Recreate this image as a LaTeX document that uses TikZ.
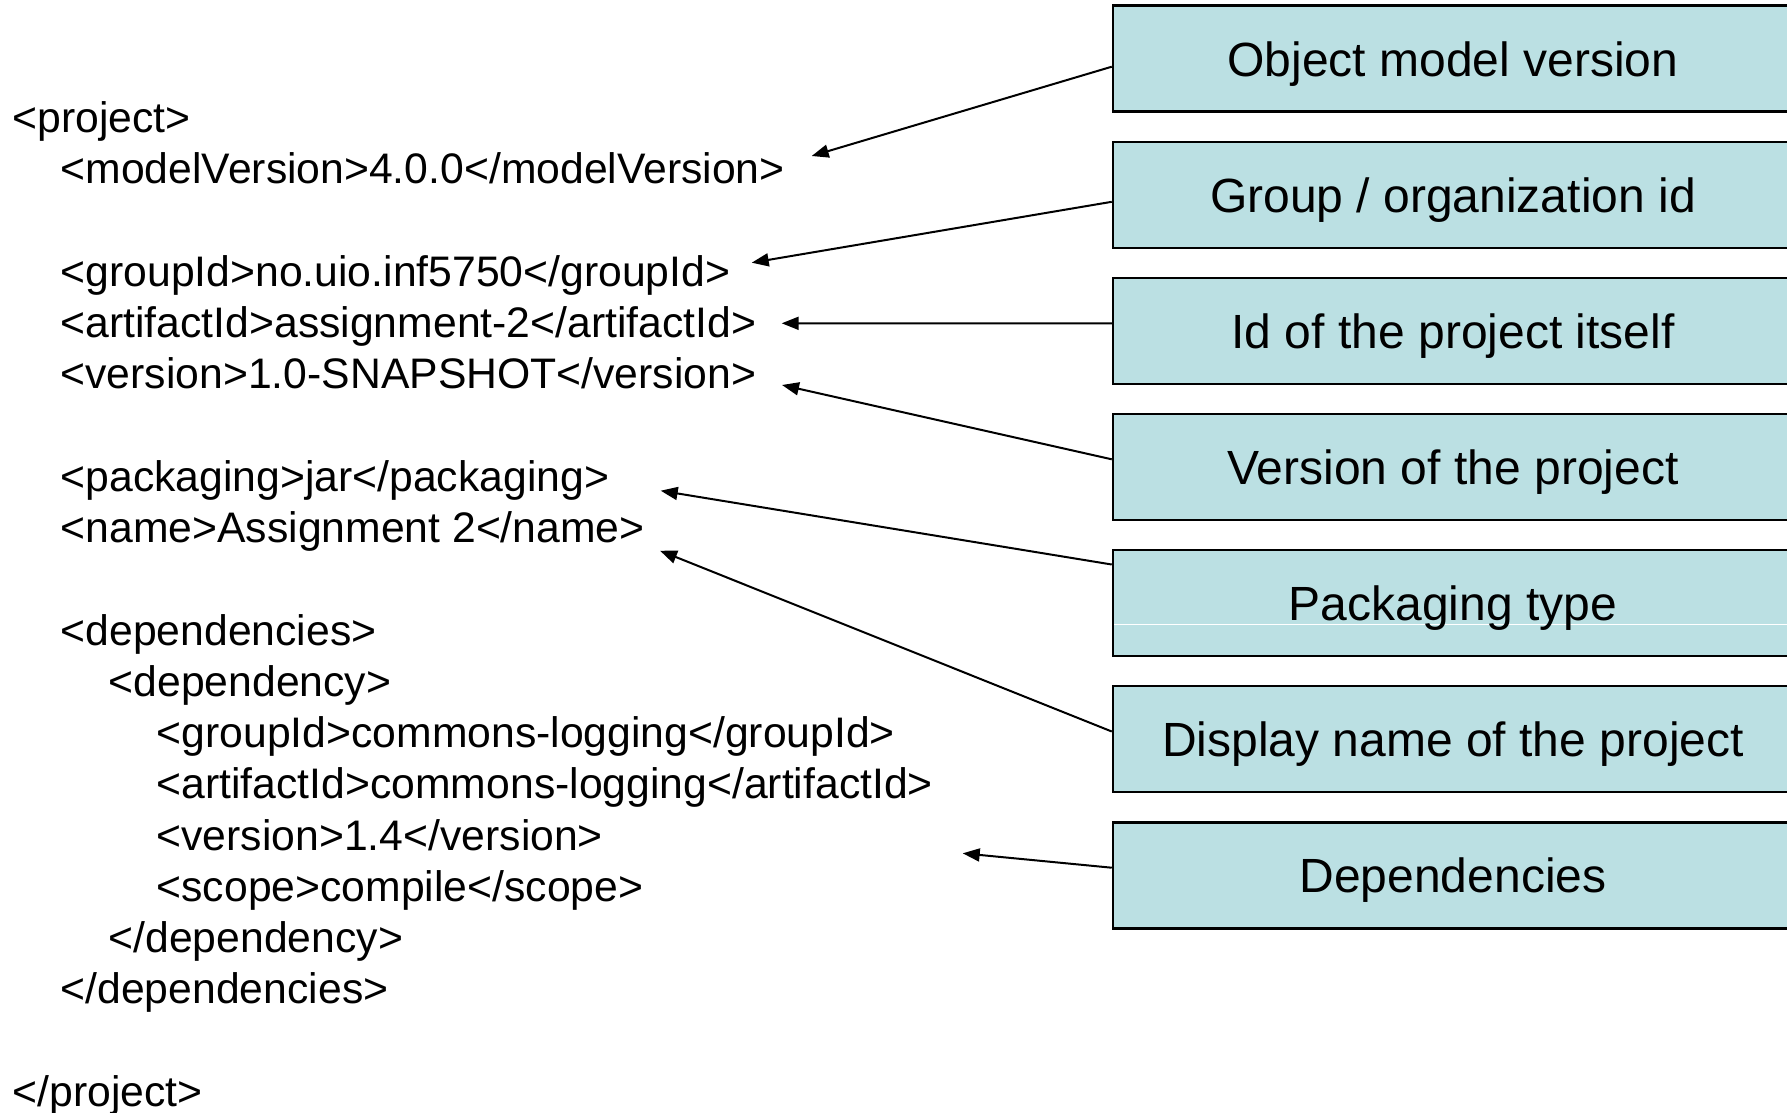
\documentclass[tikz,border=0pt]{standalone}
\usepackage{fontspec}
\setmainfont{Liberation Sans}
\usetikzlibrary{arrows.meta}
\definecolor{boxcol}{RGB}{187,224,227}
\tikzset{
  infobox/.style={draw=black, line width=2.5pt, fill=boxcol, minimum width=680pt, minimum height=106pt,
    inner sep=0pt, text height=45.6pt, text depth=10.6pt, font=\fontsize{48}{56}\selectfont},
  codeline/.style={anchor=base west, inner sep=0pt, font=\fontsize{42.7}{50}\selectfont},
  pointer/.style={line width=2pt, -{Triangle[length=17pt,width=13pt]}}
}
\begin{document}
\begin{tikzpicture}[x=1pt,y=-1pt]
\useasboundingbox (0,0) rectangle (1787,1112);
% code lines
\def\xa{12.5}\def\xb{60.5}\def\xc{108.5}\def\xd{156.5}
\node[codeline] (l0)  at (\xa,132.5) {<project>};
\node[codeline] (l1)  at (\xb,183.8) {<modelVersion>4.0.0</modelVersion>};
\node[codeline] (l3)  at (\xb,286.3) {<groupId>no.uio.inf5750</groupId>};
\node[codeline] (l4)  at (\xb,337.5) {<artifactId>assignment-2</artifactId>};
\node[codeline] (l5)  at (\xb,388.8) {<version>1.0-SNAPSHOT</version>};
\node[codeline] (l7)  at (\xb,491.3) {<packaging>jar</packaging>};
\node[codeline] (l8)  at (\xb,542.6) {<name>Assignment 2</name>};
\node[codeline] (l10) at (\xb,645.1) {<dependencies>};
\node[codeline] (l11) at (\xc,696.4) {<dependency>};
\node[codeline] (l12) at (\xd,747.6) {<groupId>commons-logging</groupId>};
\node[codeline] (l13) at (\xd,798.9) {<artifactId>commons-logging</artifactId>};
\node[codeline] (l14) at (\xd,850.1) {<version>1.4</version>};
\node[codeline] (l15) at (\xd,901.4) {<scope>compile</scope>};
\node[codeline] (l16) at (\xc,952.7) {</dependency>};
\node[codeline] (l17) at (\xb,1003.9) {</dependencies>};
\node[codeline] (l19) at (\xa,1106.4) {</project>};
% boxes
\node[infobox] (b1) at (1453,58.7) {Object model version};
\node[infobox] (b2) at (1453,194.8) {Group / organization id};
\node[infobox] (b3) at (1453,330.9) {Id of the project itself};
\node[infobox] (b4) at (1453,467.0) {Version of the project};
\node[infobox, path picture={\draw[white,line width=1pt] ([yshift=-21pt]path picture bounding box.west) -- ([yshift=-21pt]path picture bounding box.east);}] (b5) at (1453,603.1) {Packaging type};
\node[infobox] (b6) at (1453,739.2) {Display name of the project};
\node[infobox] (b7) at (1453,875.3) {Dependencies};
% arrow tips
\coordinate (t1) at (811.7,156);
\coordinate (t2) at (751.7,262.7);
\coordinate (t3) at (781.7,323.3);
\coordinate (t4) at (782,385);
\coordinate (t5) at (660.7,490.7);
\coordinate (t6) at (660,550.7);
\coordinate (t7) at (962.7,853.3);
\draw[pointer] ([yshift=-8pt]b1.west) -- (t1);
\draw[pointer] ([yshift=-7pt]b2.west) -- (t2);
\draw[pointer] ([yshift=7.6pt]b3.west) -- (t3);
\draw[pointer] ([yshift=7.7pt]b4.west) -- (t4);
\draw[pointer] ([yshift=38.6pt]b5.west) -- (t5);
\draw[pointer] ([yshift=7.7pt]b6.west) -- (t6);
\draw[pointer] ([yshift=7.6pt]b7.west) -- (t7);
\end{tikzpicture}
\end{document}
